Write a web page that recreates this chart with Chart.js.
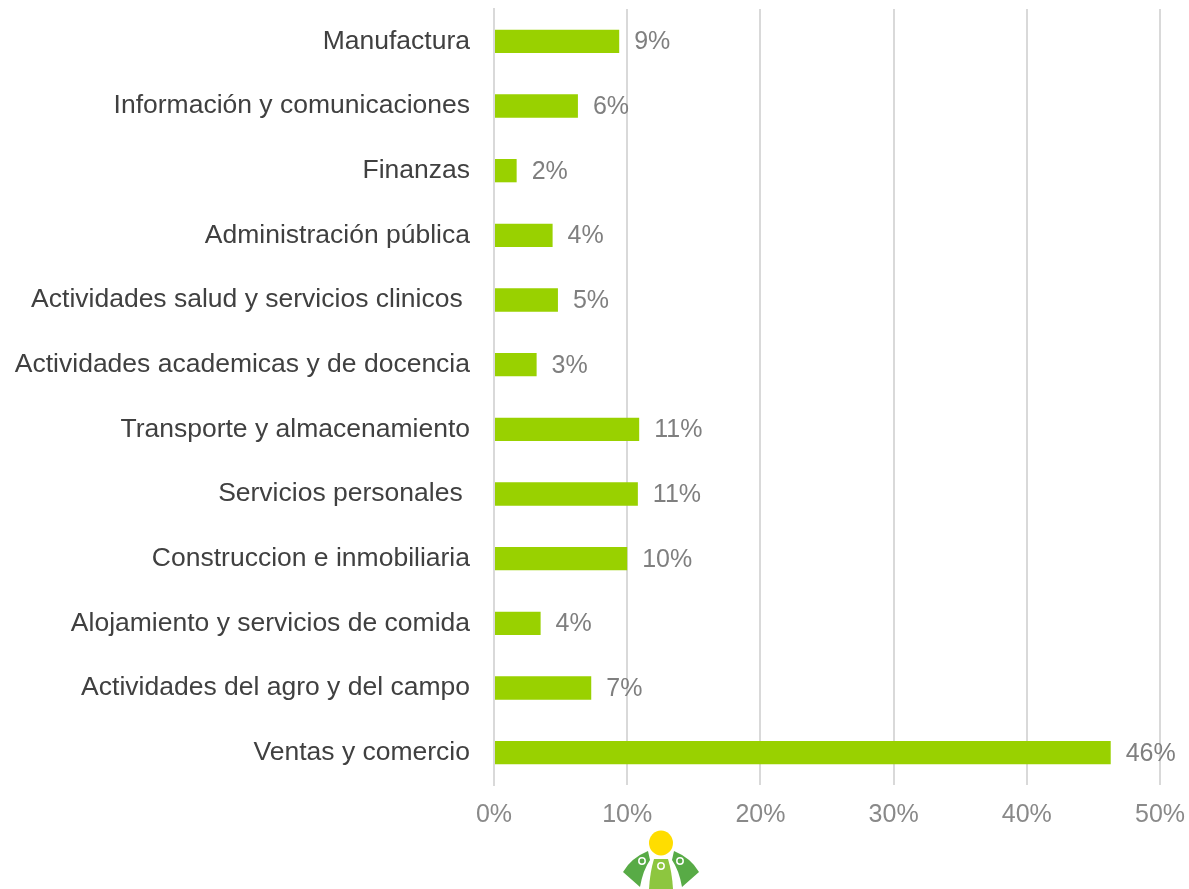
<!DOCTYPE html>
<html lang="es">
<head>
    <meta charset="UTF-8">
    <title>Sectores</title>
    <script src="https://cdn.jsdelivr.net/npm/chart.js"></script>
    <style>
        html, body { margin: 0; padding: 0; background: #fff; }
        #wrap { width: 1189px; height: 889px; }
    </style>
</head>
<body>
    <div id="wrap"><canvas id="sectorChart" width="1189" height="889"></canvas></div>
    <script>
        const categories = [
            'Manufactura',
            'Información y comunicaciones',
            'Finanzas',
            'Administración pública',
            'Actividades salud y servicios clinicos ',
            'Actividades academicas y de docencia',
            'Transporte y almacenamiento',
            'Servicios personales ',
            'Construccion e inmobiliaria',
            'Alojamiento y servicios de comida',
            'Actividades del agro y del campo',
            'Ventas y comercio'
        ];
        const shares = [9.4, 6.3, 1.7, 4.4, 4.8, 3.2, 10.9, 10.8, 10.0, 3.5, 7.3, 46.3];
        const shareLabels = ['9%', '6%', '2%', '4%', '5%', '3%', '11%', '11%', '10%', '4%', '7%', '46%'];
        const xTicks = [0, 10, 20, 30, 40, 50];

        const FONT = 'Liberation Sans, Arial, sans-serif';

        // value labels at bar ends
        const barLabels = {
            id: 'barLabels',
            afterDatasetsDraw(chart) {
                const ctx = chart.ctx;
                const meta = chart.getDatasetMeta(0);
                ctx.save();
                ctx.font = '25px ' + FONT;
                ctx.fillStyle = '#7f7f7f';
                ctx.textAlign = 'left';
                ctx.textBaseline = 'middle';
                meta.data.forEach((bar, i) => {
                    ctx.fillText(shareLabels[i], bar.x + 15, bar.y + 1);
                });
                ctx.restore();
            }
        };

        // small logo under the axis
        const logo = {
            id: 'logo',
            afterDraw(chart) {
                const ctx = chart.ctx;
                const cx = 661;
                ctx.save();
                // side figures
                ctx.fillStyle = '#58ab46';
                [-1, 1].forEach(s => {
                    ctx.beginPath();
                    ctx.moveTo(cx + s * 13, 851);
                    ctx.quadraticCurveTo(cx + s * 30, 858, cx + s * 38, 872);
                    ctx.lineTo(cx + s * 21, 887);
                    ctx.quadraticCurveTo(cx + s * 18, 870, cx + s * 11, 860);
                    ctx.closePath();
                    ctx.fill();
                });
                // middle figure
                ctx.fillStyle = '#8dc63f';
                ctx.beginPath();
                ctx.moveTo(cx - 7, 859);
                ctx.lineTo(cx + 7, 859);
                ctx.quadraticCurveTo(cx + 11, 872, cx + 12, 889);
                ctx.lineTo(cx - 12, 889);
                ctx.quadraticCurveTo(cx - 11, 872, cx - 7, 859);
                ctx.closePath();
                ctx.fill();
                // heads
                ctx.strokeStyle = '#ffffff';
                ctx.lineWidth = 1.5;
                [[-19, 861], [0, 866], [19, 861]].forEach(p => {
                    ctx.beginPath();
                    ctx.arc(cx + p[0], p[1], 3.2, 0, Math.PI * 2);
                    ctx.stroke();
                });
                // sun
                ctx.fillStyle = '#ffdd00';
                ctx.beginPath();
                ctx.ellipse(cx, 843, 12, 12.5, 0, 0, Math.PI * 2);
                ctx.fill();
                ctx.restore();
            }
        };

        const noScalePad = scale => {
            scale.paddingTop = 0;
            scale.paddingBottom = 0;
            scale.paddingLeft = 0;
            scale.paddingRight = 0;
        };

        new Chart(document.getElementById('sectorChart'), {
            type: 'bar',
            data: {
                labels: categories,
                datasets: [{
                    data: shares,
                    backgroundColor: '#99d100',
                    borderWidth: 0,
                    categoryPercentage: 1,
                    barPercentage: 0.36
                }]
            },
            options: {
                indexAxis: 'y',
                responsive: false,
                animation: false,
                layout: { padding: { top: 9, right: 29, bottom: 44, left: 0 } },
                plugins: {
                    legend: { display: false },
                    tooltip: { enabled: false }
                },
                scales: {
                    x: {
                        min: 0,
                        max: 50,
                        afterBuildTicks: axis => { axis.ticks = xTicks.map(v => ({ value: v })); },
                        afterFit: noScalePad,
                        grid: { color: '#d9d9d9', lineWidth: 2, drawTicks: false },
                        border: { display: false },
                        ticks: {
                            padding: 15,
                            color: '#898989',
                            font: { family: FONT, size: 25 },
                            callback: v => v + '%'
                        }
                    },
                    y: {
                        afterFit: scale => { noScalePad(scale); scale.width = 494; },
                        grid: { display: false, drawTicks: false },
                        border: { display: true, color: '#d9d9d9', width: 2 },
                        ticks: {
                            padding: 24,
                            color: '#404040',
                            font: { family: FONT, size: 26.5 },
                            autoSkip: false
                        }
                    }
                }
            },
            plugins: [barLabels, logo]
        });
    </script>
</body>
</html>
